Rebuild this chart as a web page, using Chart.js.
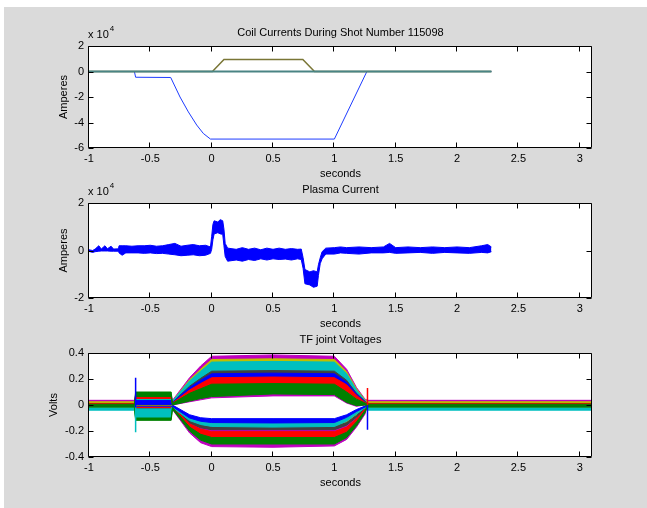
<!DOCTYPE html>
<html>
<head>
<meta charset="utf-8">
<script src="https://cdn.jsdelivr.net/npm/chart.js@4.4.1/dist/chart.umd.min.js"></script>
<style>
  html, body { margin: 0; padding: 0; background: #ffffff; }
  #fig { position: relative; width: 647px; height: 508px; background: #ffffff; overflow: hidden; }
  #panel { position: absolute; left: 4px; top: 7px; width: 643px; height: 501px; background: #dadada; }
  #fig canvas { position: absolute; left: 0; top: 0; }
</style>
</head>
<body>
<div id="fig">
  <div id="panel"></div>
  <canvas id="coil" width="647" height="508"></canvas>
  <canvas id="plasma" width="647" height="508"></canvas>
  <canvas id="joints" width="647" height="508"></canvas>
</div>
<script>
// coil currents, units of 1e4 A
const ohTime    = [-1, -0.63, -0.62, -0.334, -0.258, -0.19, -0.122, -0.068, -0.01, 1.0, 1.265, 2.28];
const ohCurrent = [0, 0, -0.45, -0.47, -2.0, -3.17, -4.2, -4.86, -5.3, -5.3, 0, 0];
const pfTime    = [-1, 0.006, 0.1, 0.743, 0.838, 2.28];
const pfCurrent = [0, 0, 0.95, 0.95, 0, 0];
const baseTime    = [-1, 2.28];
const baseCurrent = [0, 0];

// plasma current envelope (upper / lower edge of the noisy trace), units of 1e4 A
const plasmaTime = [-1, -0.97, -0.95, -0.92, -0.9, -0.87, -0.85, -0.82, -0.8, -0.76,
  -0.755, -0.73, -0.7, -0.65, -0.6, -0.55, -0.5, -0.45, -0.4, -0.35,
  -0.3, -0.25, -0.2, -0.15, -0.1, -0.05, -0.01, 0.0, 0.01, 0.02,
  0.05, 0.07, 0.09, 0.1, 0.11, 0.13, 0.2, 0.25, 0.3, 0.35,
  0.4, 0.45, 0.5, 0.55, 0.6, 0.65, 0.7, 0.73, 0.745, 0.76,
  0.8, 0.83, 0.86, 0.87, 0.885, 0.9, 0.93, 1.0, 1.05, 1.1,
  1.2, 1.3, 1.4, 1.45, 1.5, 1.6, 1.7, 1.8, 1.9, 2.0,
  2.1, 2.2, 2.25, 2.28];
const plasmaHigh = [0.03, 0.0, 0.06, 0.2, 0.06, 0.2, 0.07, 0.18, 0.06, 0.07,
  0.2, 0.2, 0.2, 0.18, 0.2, 0.2, 0.22, 0.18, 0.2, 0.25,
  0.3, 0.18, 0.22, 0.25, 0.2, 0.22, 0.15, 0.6, 1.1, 1.25,
  1.2, 1.3, 1.25, 0.9, 0.3, 0.1, 0.05, 0.12, 0.05, 0.1,
  0.03, 0.1, 0.05, 0.1, 0.05, 0.08, 0.05, 0.06, -0.3, -0.8,
  -0.9, -0.85, -0.9, -0.6, -0.3, -0.05, 0.1, 0.12, 0.15, 0.12,
  0.15, 0.12, 0.15, 0.3, 0.12, 0.15, 0.12, 0.15, 0.12, 0.15,
  0.12, 0.2, 0.25, 0.15];
const plasmaLow = [-0.04, -0.08, -0.05, -0.03, -0.02, -0.02, -0.02, -0.03, -0.03, -0.03,
  -0.1, -0.2, -0.1, -0.1, -0.1, -0.12, -0.1, -0.13, -0.12, -0.15,
  -0.18, -0.22, -0.2, -0.18, -0.22, -0.2, -0.12, 0.05, 0.45, 0.7,
  0.75, 0.7, 0.68, 0.2, -0.25, -0.45, -0.4, -0.45, -0.38, -0.42,
  -0.35, -0.4, -0.35, -0.38, -0.36, -0.4, -0.35, -0.38, -0.75, -1.4,
  -1.45, -1.55, -1.5, -1.05, -0.55, -0.35, -0.15, -0.15, -0.1, -0.12,
  -0.15, -0.1, -0.1, -0.08, -0.12, -0.1, -0.08, -0.12, -0.08, -0.1,
  -0.12, -0.08, -0.1, -0.05];

// TF joint voltages: each joint drawn as the band between its upper and lower edge (volts)
const tfTime = [-1, -0.63, -0.62, -0.33, -0.32, -0.18, -0.09, 0, 0.5, 1.0, 1.1, 1.18, 1.25, 1.27, 3.1];

const tfPos1Hi = [0.036, 0.036, 0.08, 0.08, 0.035, 0.21, 0.30, 0.375, 0.385, 0.375, 0.275, 0.135, 0.045, 0.036, 0.036];
const tfPos1Lo = [0.022, 0.022, 0.055, 0.055, 0.025, 0.19, 0.27, 0.345, 0.35, 0.345, 0.25, 0.12, 0.035, 0.022, 0.022];
const tfPos2Hi = [0.025, 0.025, 0.015, 0.015, 0.03, 0.195, 0.275, 0.35, 0.355, 0.35, 0.255, 0.125, 0.04, 0.025, 0.025];
const tfPos2Lo = [0.014, 0.014, -0.005, -0.005, 0.02, 0.18, 0.255, 0.325, 0.33, 0.325, 0.235, 0.115, 0.032, 0.014, 0.014];
const tfPos3Hi = [0.008, 0.008, 0.06, 0.06, 0.03, 0.185, 0.26, 0.33, 0.335, 0.33, 0.24, 0.115, 0.035, 0.008, 0.008];
const tfPos3Lo = [-0.005, -0.005, 0.025, 0.025, 0.015, 0.14, 0.2, 0.255, 0.26, 0.255, 0.185, 0.09, 0.025, -0.005, -0.005];
const tfPos4Hi = [0.01, 0.01, 0.02, 0.02, 0.02, 0.145, 0.205, 0.26, 0.265, 0.26, 0.19, 0.09, 0.028, 0.01, 0.01];
const tfPos4Lo = [-0.005, -0.005, 0.0, 0.0, 0.012, 0.13, 0.185, 0.235, 0.24, 0.235, 0.17, 0.08, 0.02, -0.005, -0.005];
const tfPos5Hi = [0.005, 0.005, 0.035, 0.035, 0.02, 0.135, 0.19, 0.24, 0.245, 0.24, 0.175, 0.085, 0.026, 0.005, 0.005];
const tfPos5Lo = [-0.01, -0.01, 0.005, 0.005, 0.01, 0.115, 0.16, 0.205, 0.21, 0.205, 0.15, 0.07, 0.018, -0.01, -0.01];
const tfPos6Hi = [0.012, 0.012, 0.075, 0.075, 0.015, 0.115, 0.165, 0.21, 0.215, 0.21, 0.155, 0.075, 0.02, 0.012, 0.012];
const tfPos6Lo = [0.0, 0.0, 0.05, 0.05, 0.005, 0.075, 0.105, 0.135, 0.14, 0.135, 0.1, 0.045, 0.01, 0.0, 0.0];
const tfPos7Hi = [0.006, 0.006, 0.1, 0.1, 0.012, 0.09, 0.125, 0.16, 0.165, 0.16, 0.1, 0.045, 0.015, 0.006, 0.006];
const tfPos7Lo = [-0.014, -0.014, 0.065, 0.065, 0.0, 0.03, 0.05, 0.065, 0.085, 0.08, 0.02, -0.005, 0.0, -0.014, -0.014];
const tfPos8Hi = [0.0, 0.0, 0.07, 0.07, 0.005, 0.04, 0.06, 0.075, 0.09, 0.085, 0.03, 0.005, 0.005, 0.0, 0.0];
const tfPos8Lo = [-0.01, -0.01, 0.055, 0.055, 0.0, 0.025, 0.04, 0.055, 0.07, 0.07, 0.015, -0.01, 0.0, -0.01, -0.01];

const tfNeg1Hi = [0.0, 0.0, 0.01, 0.01, 0.0, -0.075, -0.098, -0.105, -0.105, -0.105, -0.075, -0.035, -0.008, 0.0, 0.0];
const tfNeg1Lo = [-0.01, -0.01, -0.01, -0.01, -0.012, -0.1, -0.125, -0.135, -0.138, -0.135, -0.095, -0.05, -0.015, -0.01, -0.01];
const tfNeg2Hi = [-0.022, -0.022, -0.03, -0.03, -0.005, -0.095, -0.12, -0.13, -0.135, -0.13, -0.095, -0.05, -0.012, -0.022, -0.022];
const tfNeg2Lo = [-0.04, -0.04, -0.105, -0.105, -0.018, -0.12, -0.15, -0.165, -0.17, -0.165, -0.125, -0.07, -0.022, -0.04, -0.04];
const tfNeg3Hi = [0.02, 0.02, 0.0, 0.0, -0.008, -0.11, -0.14, -0.155, -0.155, -0.155, -0.12, -0.065, -0.016, 0.02, 0.02];
const tfNeg3Lo = [0.005, 0.005, -0.02, -0.02, -0.02, -0.13, -0.16, -0.175, -0.175, -0.175, -0.14, -0.085, -0.028, 0.005, 0.005];
const tfNeg4Hi = [0.006, 0.006, -0.005, -0.005, -0.01, -0.12, -0.15, -0.165, -0.165, -0.165, -0.135, -0.08, -0.02, 0.006, 0.006];
const tfNeg4Lo = [-0.008, -0.008, -0.025, -0.025, -0.022, -0.14, -0.175, -0.19, -0.19, -0.19, -0.155, -0.095, -0.032, -0.008, -0.008];
const tfNeg5Hi = [0.032, 0.032, -0.01, -0.01, -0.012, -0.135, -0.17, -0.185, -0.185, -0.185, -0.155, -0.095, -0.025, 0.032, 0.032];
const tfNeg5Lo = [0.02, 0.02, -0.03, -0.03, -0.025, -0.155, -0.195, -0.215, -0.215, -0.215, -0.18, -0.11, -0.038, 0.02, 0.02];
const tfNeg6Hi = [0.008, 0.008, 0.0, 0.0, -0.014, -0.145, -0.185, -0.205, -0.205, -0.205, -0.17, -0.105, -0.03, 0.008, 0.008];
const tfNeg6Lo = [-0.005, -0.005, -0.02, -0.02, -0.028, -0.175, -0.225, -0.25, -0.25, -0.25, -0.21, -0.13, -0.045, -0.005, -0.005];
const tfNeg7Hi = [0.03, 0.03, -0.02, -0.02, -0.018, -0.165, -0.215, -0.24, -0.24, -0.24, -0.2, -0.125, -0.038, 0.03, 0.03];
const tfNeg7Lo = [0.018, 0.018, -0.035, -0.035, -0.03, -0.18, -0.235, -0.26, -0.26, -0.26, -0.22, -0.14, -0.05, 0.018, 0.018];
const tfNeg8Hi = [0.004, 0.004, -0.1, -0.1, -0.018, -0.17, -0.225, -0.25, -0.25, -0.25, -0.21, -0.13, -0.042, 0.004, 0.004];
const tfNeg8Lo = [-0.016, -0.016, -0.118, -0.118, -0.032, -0.2, -0.27, -0.3, -0.3, -0.3, -0.25, -0.16, -0.06, -0.016, -0.016];
const tfNeg9Hi = [0.034, 0.034, -0.025, -0.025, -0.022, -0.19, -0.26, -0.29, -0.29, -0.29, -0.24, -0.15, -0.05, 0.034, 0.034];
const tfNeg9Lo = [0.02, 0.02, -0.04, -0.04, -0.035, -0.215, -0.29, -0.32, -0.325, -0.315, -0.265, -0.17, -0.07, 0.02, 0.02];

// switching spikes at the start of the pre-charge and at the end of the pulse
const tfSpikeTime = [-0.62, -0.62, 1.27, 1.27];
const tfSpikeTop  = [0.21, 0.0, 0.13, 0.0];
const tfSpikeBot  = [-0.02, -0.21, 0.0, -0.19];

const xTicks = { min: -1, max: 3.1, step: 0.5 };

const BLUE = '#0000ff', GREEN = '#008000', RED = '#ff0000', CYAN = '#00bfbf',
      MAGENTA = '#bf00bf', OLIVE = '#bfbf00', DGRAY = '#404040';

Chart.defaults.font.family = "'Liberation Sans', Arial, Helvetica, sans-serif";
Chart.defaults.font.size = 11;
Chart.defaults.color = '#000';

function points(times, values) {
  return times.map((t, i) => ({ x: t, y: values[i] }));
}

function line(times, values, color, width) {
  return { data: points(times, values), borderColor: color, borderWidth: width, fill: false };
}

// upper edge first, lower edge fills back to it
function band(times, hi, lo, color) {
  return [
    { data: points(times, hi), borderColor: color, borderWidth: 1, fill: false },
    { data: points(times, lo), borderColor: color, borderWidth: 1, backgroundColor: color, fill: '-1' }
  ];
}

// plain numbers, no trailing ".0"
function plainLabel(value) {
  return String(Number(value.toFixed(3)));
}

// white plot box, black frame with inward ticks on all four sides, title and exponent
const matlabAxes = {
  id: 'matlabAxes',
  beforeDraw(chart) {
    const { ctx, chartArea: a } = chart;
    ctx.save();
    ctx.fillStyle = '#ffffff';
    ctx.fillRect(a.left, a.top, a.right - a.left, a.bottom - a.top);
    ctx.restore();
  },
  afterDraw(chart, args, opts) {
    const { ctx, chartArea: a, scales } = chart;
    const xl = Math.floor(a.left) - 0.5, xr = Math.floor(a.right) - 0.5;
    const yt = Math.floor(a.top) + 0.5, yb = Math.floor(a.bottom) - 0.5;
    const tl = 5;
    ctx.save();
    ctx.strokeStyle = '#000';
    ctx.lineWidth = 1;
    ctx.beginPath();
    ctx.rect(xl, yt, xr - xl, yb - yt);
    scales.x.ticks.forEach(t => {
      const px = Math.round(scales.x.getPixelForValue(t.value)) - 0.5;
      ctx.moveTo(px, yb); ctx.lineTo(px, yb - tl);
      ctx.moveTo(px, yt); ctx.lineTo(px, yt + tl);
    });
    scales.y.ticks.forEach(t => {
      const py = Math.round(scales.y.getPixelForValue(t.value)) + 0.5;
      ctx.moveTo(xl, py); ctx.lineTo(xl + tl, py);
      ctx.moveTo(xr, py); ctx.lineTo(xr - tl, py);
    });
    ctx.stroke();

    ctx.fillStyle = '#000';
    ctx.font = "11px 'Liberation Sans', Arial, sans-serif";
    ctx.textBaseline = 'middle';
    ctx.textAlign = 'center';
    ctx.fillText(opts.title, (a.left + a.right) / 2, a.top - 13);
    if (opts.exponent) {
      ctx.textAlign = 'left';
      const base = 'x 10';
      ctx.fillText(base, a.left - 1, a.top - 11);
      const w = ctx.measureText(base).width;
      ctx.font = "8px 'Liberation Sans', Arial, sans-serif";
      ctx.fillText(opts.exponent, a.left - 1 + w + 1, a.top - 17);
    }
    ctx.restore();
  }
};

function xAxis() {
  return {
    type: 'linear', min: xTicks.min, max: xTicks.max,
    grid: { display: false, drawTicks: false }, border: { display: false },
    ticks: { stepSize: xTicks.step, includeBounds: false, padding: 4, maxRotation: 0, autoSkip: false,
             callback: plainLabel },
    title: { display: true, text: 'seconds', padding: 0 },
    afterFit(scale) { scale.height = 33; }
  };
}

function yAxis(min, max, step, label, width) {
  return {
    type: 'linear', min: min, max: max,
    grid: { display: false, drawTicks: false }, border: { display: false },
    ticks: { stepSize: step, padding: 5, callback: plainLabel },
    title: { display: true, text: label, padding: 0 },
    afterFit(scale) { scale.width = width; }
  };
}

function panel(id, datasets, y, pad, title, exponent) {
  return new Chart(document.getElementById(id), {
    type: 'line',
    data: { datasets: datasets },
    options: {
      responsive: false,
      animation: false,
      events: [],
      layout: { padding: pad },
      elements: { point: { radius: 0 }, line: { tension: 0 } },
      scales: { x: xAxis(), y: y },
      plugins: {
        legend: { display: false },
        tooltip: { enabled: false },
        matlabAxes: { title: title, exponent: exponent }
      }
    },
    plugins: [matlabAxes]
  });
}

// first dataset is drawn on top
panel('coil', [
  line(baseTime, baseCurrent, '#4a8484', 2),
  line(pfTime, pfCurrent, '#7a7636', 1.5),
  line(ohTime, ohCurrent, '#1e3cff', 1)
], yAxis(-6, 2, 2, 'Amperes', 32), { left: 57, right: 55, top: 46, bottom: 327 },
  'Coil Currents During Shot Number 115098', '4');

panel('plasma', band(plasmaTime, plasmaHigh, plasmaLow, BLUE),
  yAxis(-2, 2, 2, 'Amperes', 32), { left: 57, right: 55, top: 203, bottom: 177 },
  'Plasma Current', '4');

const tfBands = [
  [tfPos7Hi, tfPos7Lo, GREEN],
  [tfPos6Hi, tfPos6Lo, RED],
  [tfPos5Hi, tfPos5Lo, BLUE],
  [tfPos4Hi, tfPos4Lo, DGRAY],
  [tfPos3Hi, tfPos3Lo, CYAN],
  [tfPos2Hi, tfPos2Lo, OLIVE],
  [tfPos1Hi, tfPos1Lo, MAGENTA],
  [tfPos8Hi, tfPos8Lo, MAGENTA],
  [tfNeg8Hi, tfNeg8Lo, GREEN],
  [tfNeg1Hi, tfNeg1Lo, BLUE],
  [tfNeg2Hi, tfNeg2Lo, CYAN],
  [tfNeg6Hi, tfNeg6Lo, RED],
  [tfNeg4Hi, tfNeg4Lo, DGRAY],
  [tfNeg3Hi, tfNeg3Lo, OLIVE],
  [tfNeg5Hi, tfNeg5Lo, MAGENTA],
  [tfNeg7Hi, tfNeg7Lo, MAGENTA],
  [tfNeg9Hi, tfNeg9Lo, MAGENTA]
];
const spikeColors = [BLUE, CYAN, RED, BLUE];

const tfSets = [];
tfSpikeTime.forEach((t, i) => {
  tfSets.push(line([t, t], [tfSpikeTop[i], tfSpikeBot[i]], spikeColors[i], 1.5));
});
tfBands.forEach(b => tfSets.push(...band(tfTime, b[0], b[1], b[2])));

panel('joints', tfSets,
  yAxis(-0.4, 0.4, 0.2, 'Volts', 42), { left: 47, right: 55, top: 353, bottom: 18 },
  'TF joint Voltages', null);
</script>
</body>
</html>
